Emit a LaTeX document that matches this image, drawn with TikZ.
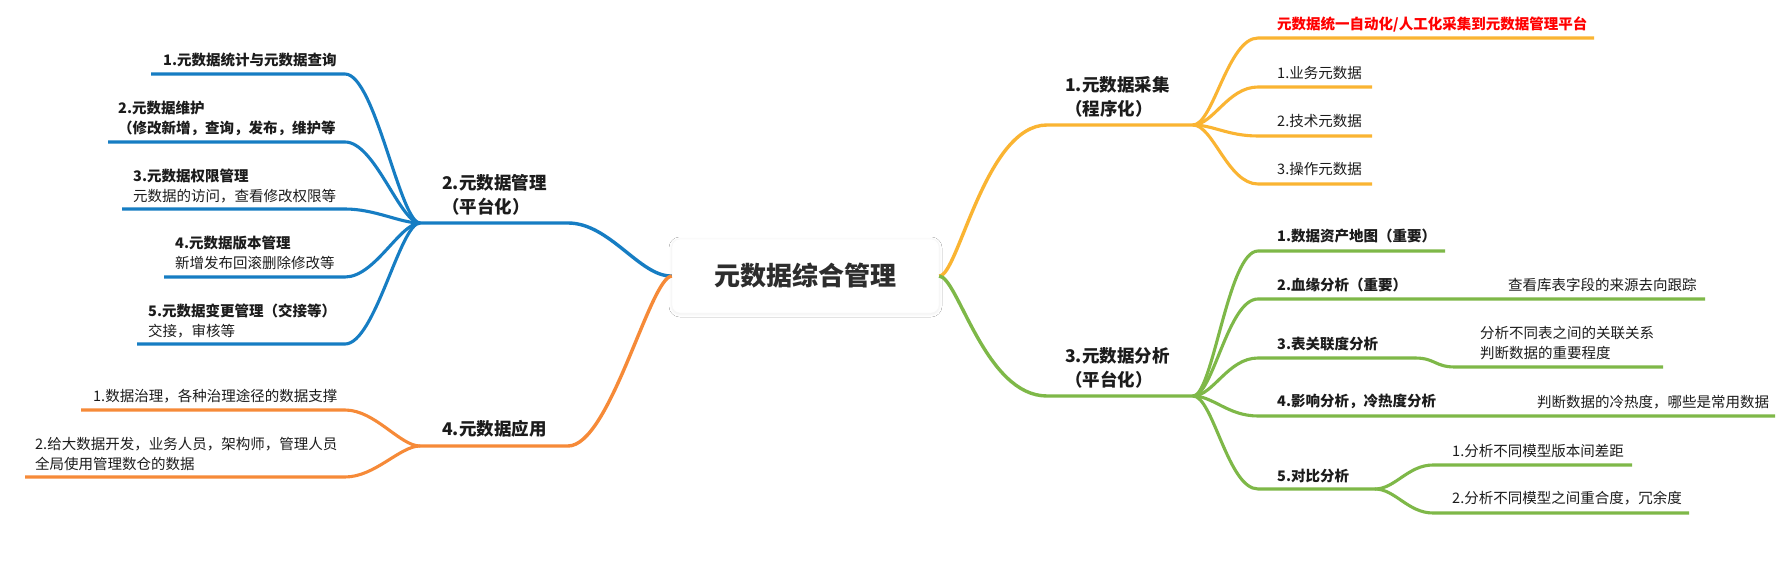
\documentclass[tikz,border=0pt]{standalone}
\usepackage{fontspec}
\setmainfont{Noto Sans CJK SC}
\usepackage{tikz}
\usetikzlibrary{positioning,shadows.blur}
\definecolor{mapblue}{RGB}{22,125,195}
\definecolor{mapyellow}{RGB}{250,180,50}
\definecolor{mapgreen}{RGB}{126,184,72}
\definecolor{maporange}{RGB}{246,138,56}
\definecolor{maptext}{RGB}{28,28,28}
\definecolor{roottext}{RGB}{45,45,45}

\begin{document}
\begin{tikzpicture}[x=1pt,y=-1pt,
        mainline/.style={line width=3.4pt},
        subline/.style={line width=3.1pt},
        topictext/.style={anchor=south west, inner sep=0pt, align=left, text=maptext,
            font=\fontsize{17.5}{24.5}\selectfont\bfseries},
        leaftext/.style={anchor=south west, inner sep=0pt, align=left, text=maptext,
            font=\fontsize{14.5}{20}\selectfont},
        leafbold/.style={leaftext, font=\fontsize{14.5}{20}\selectfont\bfseries}]
            \fill[white] (0,0) rectangle (1782,561);
            \useasboundingbox (0,0) rectangle (1782,561);

            \node[fill=white, draw=black!3, rounded corners=8pt, minimum width=267pt, minimum height=74pt,
                blur shadow={shadow xshift=0pt, shadow yshift=-1pt, shadow blur radius=3pt, shadow opacity=7},
                text=roottext, font=\fontsize{26}{30}\selectfont\bfseries] (root) at (805.5,276) {元数据综合管理};

            % 2. 元数据管理
            \coordinate (mgmt-in) at (568,223);
            \coordinate (mgmt-fork) at (420,223);
            \draw[mainline, mapblue] (root.west) .. controls (640,277) and (610,223) .. (mgmt-in) -- (mgmt-fork);
            \node[topictext] (mgmt) at (442,216) {2.元数据管理\\（平台化）};
            \foreach \n/\yy/\xl in {1/74/151, 2/142/108, 3/209/122, 4/277/164, 5/344/137} {
                \coordinate (mgmt\n-r) at (345,\yy);
                \coordinate (mgmt\n-l) at (\xl,\yy);
                \draw[subline, mapblue] (mgmt-fork) .. controls +(-20,0) and +(30,0) .. (mgmt\n-r) -- (mgmt\n-l);
            }
            \node[leafbold] (mgmt1) at (163,67) {1.元数据统计与元数据查询};
            \node[leafbold] (mgmt2) at (118,136) {2.元数据维护\\（修改新增，查询，发布，维护等};
            \node[leaftext] (mgmt3) at (133,203) {\textbf{3.元数据权限管理}\\元数据的访问，查看修改权限等};
            \node[leaftext] (mgmt4) at (175,270) {\textbf{4.元数据版本管理}\\新增发布回滚删除修改等};
            \node[leaftext] (mgmt5) at (148,338) {\textbf{5.元数据变更管理（交接等）}\\交接，审核等};

            % 4. 元数据应用
            \coordinate (use-in) at (568,446);
            \coordinate (use-fork) at (420,446);
            \draw[mainline, maporange] (root.west) .. controls (650,277) and (610,446) .. (use-in) -- (use-fork);
            \node[topictext] (use) at (442,438) {4.元数据应用};
            \foreach \n/\yy/\xl in {1/410/81, 2/477/25} {
                \coordinate (use\n-r) at (345,\yy);
                \coordinate (use\n-l) at (\xl,\yy);
                \draw[subline, maporange] (use-fork) .. controls +(-20,0) and +(30,0) .. (use\n-r) -- (use\n-l);
            }
            \node[leaftext] (use1) at (93,403) {1.数据治理，各种治理途径的数据支撑};
            \node[leaftext] (use2) at (35,471) {2.给大数据开发，业务人员，架构师，管理人员\\全局使用管理数仓的数据};

            % 1. 元数据采集
            \coordinate (coll-in) at (1047,125);
            \coordinate (coll-fork) at (1193,125);
            \draw[mainline, mapyellow] (root.east) .. controls (958,277) and (985,125) .. (coll-in) -- (coll-fork);
            \node[topictext] (coll) at (1065,118) {1.元数据采集\\（程序化）};
            \foreach \n/\yy/\xr in {1/38/1594, 2/87/1372, 3/136/1372, 4/184/1372} {
                \coordinate (coll\n-l) at (1258,\yy);
                \coordinate (coll\n-r) at (\xr,\yy);
                \draw[subline, mapyellow] (coll-fork) .. controls +(20,0) and +(-30,0) .. (coll\n-l) -- (coll\n-r);
            }
            \node[leafbold, text=red] (coll1) at (1277,32) {元数据统一自动化/人工化采集到元数据管理平台};
            \node[leaftext] (coll2) at (1277,80) {1.业务元数据};
            \node[leaftext] (coll3) at (1277,128) {2.技术元数据};
            \node[leaftext] (coll4) at (1277,176) {3.操作元数据};

            % 3. 元数据分析
            \coordinate (anal-in) at (1047,396);
            \coordinate (anal-fork) at (1193,396);
            \draw[mainline, mapgreen] (root.east) .. controls (958,277) and (985,396) .. (anal-in) -- (anal-fork);
            \node[topictext] (anal) at (1065,389) {3.元数据分析\\（平台化）};
            \foreach \n/\yy/\xr in {1/251/1445, 2/299/1705, 3/358/1415, 4/416/1775, 5/489/1375} {
                \coordinate (anal\n-l) at (1258,\yy);
                \coordinate (anal\n-r) at (\xr,\yy);
                \draw[subline, mapgreen] (anal-fork) .. controls +(20,0) and +(-30,0) .. (anal\n-l) -- (anal\n-r);
            }
            \node[leafbold] (anal1) at (1277,243) {1.数据资产地图（重要）};
            \node[leafbold] (anal2) at (1277,292) {2.血缘分析（重要）};
            \node[leaftext] (anal2a) at (1508,292) {查看库表字段的来源去向跟踪};
            \node[leafbold] (anal3) at (1277,351) {3.表关联度分析};
            \coordinate (anal3a-l) at (1455,367);
            \coordinate (anal3a-r) at (1663,367);
            \draw[subline, mapgreen] (anal3-r) .. controls +(20,0) and +(-20,0) .. (anal3a-l) -- (anal3a-r);
            \node[leaftext] (anal3a) at (1480,360) {分析不同表之间的关联关系\\判断数据的重要程度};
            \node[leafbold] (anal4) at (1277,409) {4.影响分析，冷热度分析};
            \node[leaftext] (anal4a) at (1537,409) {判断数据的冷热度，哪些是常用数据};
            \node[leafbold] (anal5) at (1277,483) {5.对比分析};
            \foreach \n/\yy/\xr in {a/465/1632, b/513/1689} {
                \coordinate (anal5\n-l) at (1433,\yy);
                \coordinate (anal5\n-r) at (\xr,\yy);
                \draw[subline, mapgreen] (anal5-r) .. controls +(20,0) and +(-25,0) .. (anal5\n-l) -- (anal5\n-r);
            }
            \node[leaftext] (anal5a) at (1452,458) {1.分析不同模型版本间差距};
            \node[leaftext] (anal5b) at (1452,505) {2.分析不同模型之间重合度，冗余度};
        \end{tikzpicture}
\end{document}
